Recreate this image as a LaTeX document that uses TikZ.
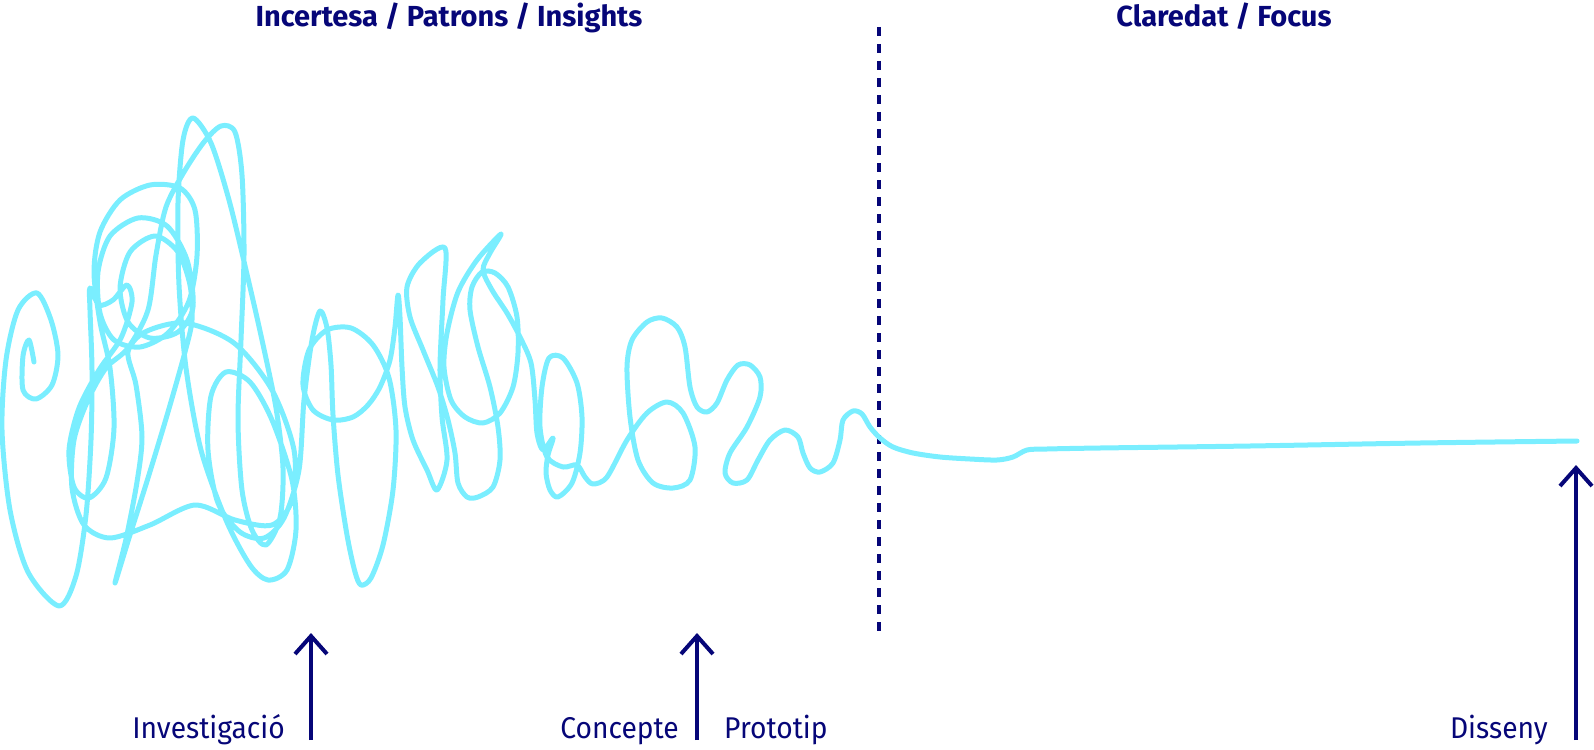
\documentclass[tikz,border=0pt]{standalone}
\usepackage{fontspec}
\setmainfont{Fira Sans}
\usetikzlibrary{arrows.meta}
\definecolor{navy}{RGB}{6,6,120}
\definecolor{scribble}{RGB}{122,238,255}

\begin{document}
\begin{tikzpicture}[x=1pt, y=-1pt,
    squiggle/.style={draw=scribble, line width=5pt, line cap=round, line join=round},
    phase/.style={text=navy, font=\fontsize{29}{34}\selectfont\bfseries, anchor=base, inner sep=0pt},
    milestone/.style={text=navy, font=\fontsize{30}{35}\selectfont\addfontfeature{FakeStretch=0.94}, inner sep=0pt},
    uparrow/.style={draw=navy, line width=4pt, -{Straight Barb[length=18pt,width=32pt]}}]
  \useasboundingbox (0,0) rectangle (1594,749);
  % Phase titles
  \node[phase] (incertesa) at (449,27) {Incertesa / Patrons / Insights};
  \node[phase] (claredat) at (1224,27) {Claredat / Focus};
  % Divider between the two phases
  \coordinate (divtop) at (879,27);
  \coordinate (divbot) at (879,632);
  \draw[navy, line width=4pt, dash pattern=on 9pt off 8pt] (divtop) -- (divbot);
  % The design squiggle
  \draw[squiggle] plot[smooth, tension=0.5] coordinates {
    (34,362) (29,340) (23,356) (23,390) (36,399) (52,385) (58,355) (51,320)
    (37,293) (18,310) (6,360) (2,430) (10,510) (28,572) (59,606) (76,576)
    (86,515) (91,440) (92,370) (90,310) (90,288)
    (99,305) (113,300) (127,285) (132,302) (121,338) (99,370) (79,408)
    (69,450) (74,487) (89,498) (106,478) (114,428) (110,368) (100,322) (94,272)
    (100,232) (120,200) (150,185) (180,188) (195,210) (197,256) (189,301)
    (168,333) (140,347) (114,340) (100,313) (98,272) (110,236) (138,218)
    (167,226) (187,260) (193,307) (178,332) (150,338) (128,322) (120,288)
    (130,252) (155,236) (178,252) (190,285) (192,320)
    (185,352) (168,412) (148,478) (129,538)
    (115,583) (126,539) (137,482) (142,437) (136,385) (128,352)
    (145,332) (185,323) (234,343) (272,390) (294,450) (292,500) (272,525)
    (235,520) (195,505) (150,525) (110,538) (84,525) (72,488) (74,440) (88,400)
    (106,368) (128,348) (148,310) (156,255) (166,207) (184,172) (204,142)
    (221,126) (235,132) (242,175) (244,255) (241,340) (238,420) (242,490)
    (252,530) (266,545)
    (280,518) (283,468) (276,408) (262,340) (246,270) (229,200) (211,143)
    (193,118) (183,140) (178,203) (179,285) (186,368) (201,450) (226,520)
    (250,565) (268,580) (287,570) (296,530)
    (292,480) (272,420) (250,382) (226,372) (211,396) (208,450) (218,503)
    (240,532) (264,538) (284,518)
    (299,470) (304,400) (312,340) (320,311) (327,328) (331,365) (333,415)
    (338,475) (347,535) (355,572) (361,585) (371,578) (383,545) (393,490)
    (396,430) (389,378) (373,345) (351,328) (327,330) (309,350) (303,385)
    (313,410) (333,420) (353,417) (368,405) (380,387)
    (390,360) (395,327) (398,295) (400,317) (402,367) (405,407) (413,440)
    (427,470) (437,490) (447,460) (442,417) (440,367) (443,300) (445,248)
    (420,263) (407,287) (410,317) (423,350) (438,387) (448,420) (455,453)
    (458,483) (467,497) (478,497) (493,487) (500,460) (498,427) (490,387)
    (478,347) (470,310) (472,287) (482,272) (495,273) (508,287) (517,317)
    (518,353) (513,387) (500,413) (483,423) (465,417) (451,400) (444,367)
    (447,333) (458,292) (477,260) (501,234) (490,253) (483,270) (492,290)
    (507,313) (520,337) (531,363) (535,400) (537,433) (543,450) (553,438)
    (548,455) (546,473) (550,490) (558,497) (572,483) (580,453) (582,417)
    (577,383) (563,358) (549,358) (542,387) (540,427) (547,457) (563,467)
    (577,465) (585,477) (593,484) (607,477) (627,440) (647,413) (667,402)
    (683,413) (695,447) (690,480) (673,488) (653,483) (638,460) (630,417)
    (627,367) (632,340) (647,322) (662,318) (677,327) (685,347) (690,387)
    (697,407) (707,412) (717,403) (727,380) (738,365) (750,365) (760,377)
    (760,397) (747,427) (730,453) (725,473) (733,483) (747,480) (758,460)
    (770,440) (785,430) (798,437) (803,453) (810,468) (820,472) (833,463)
    (840,440) (843,420) (853,411) (862,414) (870,427) (880,438) (893,447)
    (913,453) (940,457) (970,459) (997,460) (1013,457) (1027,450) (1047,449)
    (1100,448) (1250,446) (1420,443) (1577,441)};
  % Milestone labels
  \node[milestone, anchor=base east] (investigacio) at (285,738) {Investigació};
  \node[milestone, anchor=base east] (concepte) at (679,738) {Concepte};
  \node[milestone, anchor=base west] (prototip) at (724,738) {Prototip};
  \node[milestone, anchor=base east] (disseny) at (1548,738) {Disseny};
  % Milestone arrows
  \coordinate (invfoot) at (311,740);
  \coordinate (invtip) at (311,633);
  \coordinate (conpfoot) at (697,740);
  \coordinate (conptip) at (697,633);
  \coordinate (disfoot) at (1576,740);
  \coordinate (distip) at (1576,465);
  \draw[uparrow] (invfoot) -- (invtip);
  \draw[uparrow] (conpfoot) -- (conptip);
  \draw[uparrow] (disfoot) -- (distip);
\end{tikzpicture}
\end{document}
